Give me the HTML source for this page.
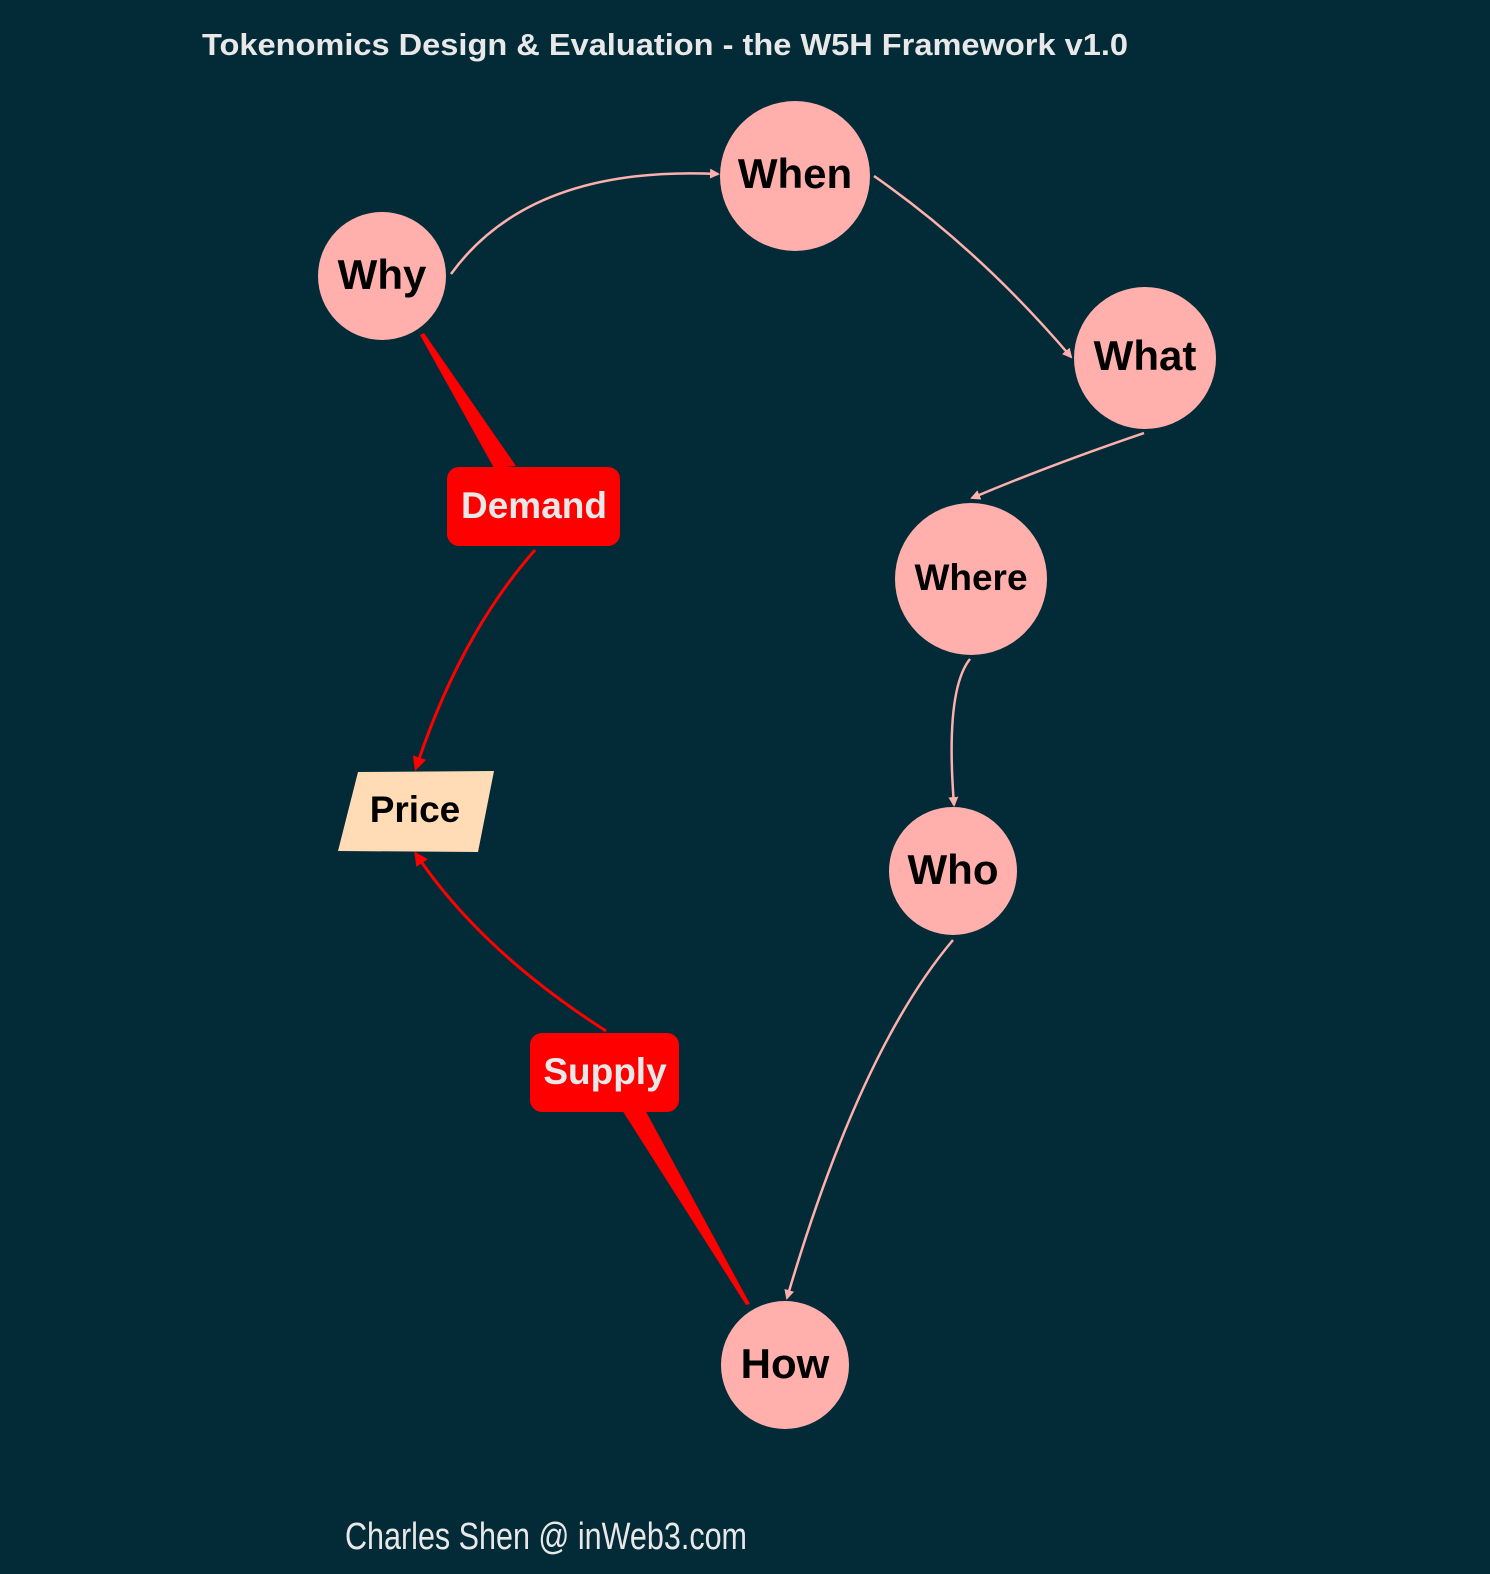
<!DOCTYPE html>
<html><head><meta charset="utf-8"><style>
html,body{margin:0;padding:0;background:#022b37;}
svg{display:block}
</style></head><body>
<svg width="1490" height="1574" viewBox="0 0 1490 1574" xmlns="http://www.w3.org/2000/svg">
<defs>
<marker id="ap" markerWidth="10" markerHeight="10" refX="8" refY="5" orient="auto" markerUnits="userSpaceOnUse"><path d="M0,0 L10,5 L0,10 z" fill="#ffb0ad"/></marker>
<marker id="ar" markerWidth="14" markerHeight="14" refX="11" refY="7" orient="auto" markerUnits="userSpaceOnUse"><path d="M0,0 L14,7 L0,14 z" fill="#ff0000"/></marker>
</defs>
<rect width="1490" height="1574" fill="#022b37"/>
<text x="202" y="55" font-family="Liberation Sans, sans-serif" font-weight="bold" font-size="31" fill="#e8e8e8" textLength="926" lengthAdjust="spacingAndGlyphs">Tokenomics Design &amp; Evaluation - the W5H Framework v1.0</text>

<g fill="none" stroke="#ffb0ad" stroke-width="2.5">
<path d="M451,274 Q530,165 718,174" marker-end="url(#ap)"/>
<path d="M874,176 Q980,250 1071,357" marker-end="url(#ap)"/>
<path d="M1144,433 Q1050,465 972,498" marker-end="url(#ap)"/>
<path d="M970,659 Q945,690 954,805" marker-end="url(#ap)"/>
<path d="M953,940 Q860,1050 787,1298" marker-end="url(#ap)"/>
</g>
<g fill="none" stroke="#ff0000" stroke-width="3">
<path d="M535,550 Q460,635 416,768" marker-end="url(#ar)"/>
<path d="M606,1031 Q480,950 416,854" marker-end="url(#ar)"/>
</g>
<polygon points="420,335 424,333 516,466 494,468" fill="#ff0000"/>
<polygon points="622,1110 644,1108 750,1304 746,1305" fill="#ff0000"/>

<g fill="#ffb0ad">
<circle cx="382" cy="276" r="64"/>
<circle cx="795" cy="176" r="75"/>
<circle cx="1145" cy="358" r="71"/>
<circle cx="971" cy="579" r="76"/>
<circle cx="953" cy="871" r="64"/>
<circle cx="785" cy="1365" r="64"/>
</g>
<rect x="447" y="467" width="173" height="79" rx="12" fill="#ff0000"/>
<rect x="530" y="1033" width="149" height="79" rx="12" fill="#ff0000"/>
<polygon points="358,772 494,771 478,852 338,851" fill="#ffdcb5"/>

<g font-family="Liberation Sans, sans-serif" font-weight="bold" text-anchor="middle">
<text x="382" y="289" font-size="42" fill="#000">Why</text>
<text x="795" y="188" font-size="42" fill="#000">When</text>
<text x="1145" y="370" font-size="42" fill="#000">What</text>
<text x="971" y="590" font-size="37" fill="#000">Where</text>
<text x="953" y="884" font-size="42" fill="#000">Who</text>
<text x="785" y="1378" font-size="42" fill="#000">How</text>
<text x="534" y="518" font-size="37" fill="#e8e8e8">Demand</text>
<text x="605" y="1084" font-size="37" fill="#e8e8e8">Supply</text>
<text x="415" y="822" font-size="37" fill="#000">Price</text>
</g>
<text x="345" y="1549" font-family="Liberation Sans Narrow, Liberation Sans, sans-serif" font-size="38" fill="#e8e8e8" textLength="402" lengthAdjust="spacingAndGlyphs">Charles Shen @ inWeb3.com</text>
</svg>
</body></html>
